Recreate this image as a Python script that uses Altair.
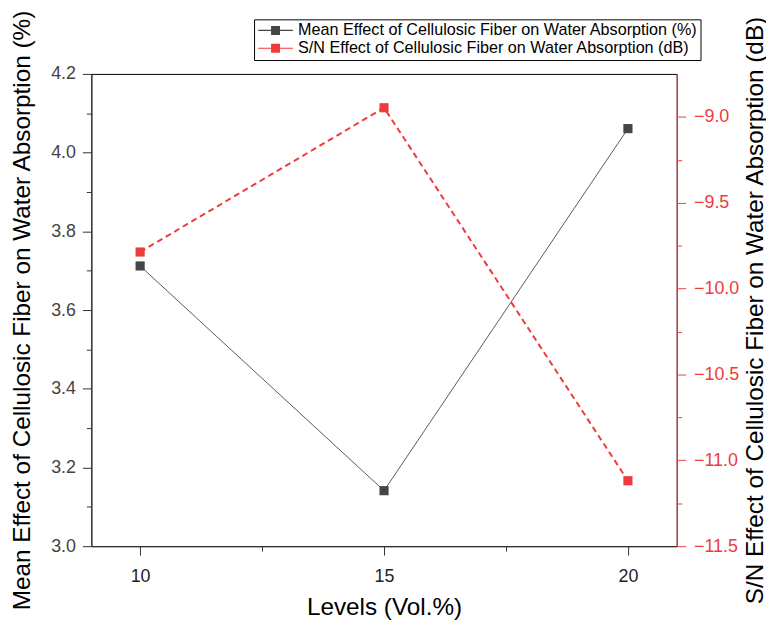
import altair as alt
import pandas as pd

levels = [10, 15, 20]
mean_vals = [3.712, 3.141, 4.061]
sn_vals = [-9.787, -8.947, -11.119]
mean_label = "Mean Effect of Cellulosic Fiber on Water Absorption (%)"
sn_label = "S/N Effect of Cellulosic Fiber on Water Absorption (dB)"
x_ticks = [10, 12.5, 15, 17.5, 20]
left_ticks = [3.0, 3.1, 3.2, 3.3, 3.4, 3.5, 3.6, 3.7, 3.8, 3.9, 4.0, 4.1, 4.2]
right_ticks = [-11.5, -11.25, -11.0, -10.75, -10.5, -10.25, -10.0, -9.75, -9.5, -9.25, -9.0]

df_mean = pd.DataFrame({"level": levels, "value": mean_vals, "series": mean_label})
df_sn = pd.DataFrame({"level": levels, "value": sn_vals, "series": sn_label})

FONT = "Liberation Sans"
GRAY = "#454545"
GRAY_LINE = "#5a5a5a"
RED = "#ee3b3b"
AXIS_DARK = "#333333"
TITLE_SIZE = 24.5
LABEL_SIZE = 18

color_scale = alt.Scale(domain=[mean_label, sn_label], range=[GRAY, RED])

legend_path = "M-1.4,-0.12H1.2V0.12H-1.4Z M3.0,-0.12H5.6V0.12H3.0Z M1.2,-0.9H3.0V0.9H1.2Z"

legend = alt.Legend(
    title=None,
    orient="none",
    legendX=164,
    legendY=-55,
    symbolType=legend_path,
    symbolSize=100,
    symbolStrokeWidth=0,
    symbolOpacity=1,
    labelFont=FONT,
    labelFontSize=16.3,
    labelColor="black",
    labelOffset=25,
    rowPadding=1,
    padding=3,
    strokeColor="black",
    fillColor="white",
    labelLimit=500,
)

x_enc = alt.X(
    "level:Q",
    scale=alt.Scale(domain=[9, 21], nice=False, zero=False),
    axis=alt.Axis(
        values=x_ticks,
        title="Levels (Vol.%)",
        labelExpr="datum.value % 5 ? '' : format(datum.value, 'd')",
        tickSize={"condition": {"test": "datum.value % 5 != 0", "value": 5}, "value": 9},
        labelPadding=13,
        titlePadding=10,
        domainColor=AXIS_DARK,
        tickColor=AXIS_DARK,
        labelColor="#222",
        labelFontSize=LABEL_SIZE,
        titleFontSize=TITLE_SIZE,
        labelFont=FONT,
        titleFont=FONT,
        titleFontWeight="normal",
        titleColor="black",
        grid=False,
    ),
)

y_left = alt.Y(
    "value:Q",
    scale=alt.Scale(domain=[3.0, 4.2], nice=False, zero=False),
    axis=alt.Axis(
        orient="left",
        values=left_ticks,
        title=mean_label,
        labelExpr="round(datum.value * 10) % 2 != 0 ? '' : format(datum.value, '.1f')",
        tickSize={"condition": {"test": "round(datum.value * 10) % 2 != 0", "value": 5}, "value": 9},
        labelPadding=7,
        titlePadding=16,
        domainColor=AXIS_DARK,
        tickColor=AXIS_DARK,
        labelColor="#444",
        labelFontSize=LABEL_SIZE,
        titleFontSize=TITLE_SIZE,
        labelFont=FONT,
        titleFont=FONT,
        titleFontWeight="normal",
        titleColor="black",
        grid=False,
    ),
)

y_right = alt.Y(
    "value:Q",
    scale=alt.Scale(domain=[-11.5, -8.75], nice=False, zero=False),
    axis=alt.Axis(
        orient="right",
        values=right_ticks,
        title=sn_label,
        titleAngle=270,
        titleBaseline="top",
        labelExpr="abs(round(datum.value * 4)) % 2 != 0 ? '' : format(datum.value, '.1f')",
        tickSize={"condition": {"test": "abs(round(datum.value * 4)) % 2 != 0", "value": 5}, "value": 9},
        labelPadding=8,
        titlePadding=5,
        domainColor=RED,
        tickColor=RED,
        labelColor=RED,
        labelFontSize=LABEL_SIZE,
        titleFontSize=TITLE_SIZE,
        labelFont=FONT,
        titleFont=FONT,
        titleFontWeight="normal",
        titleColor="black",
        grid=False,
    ),
)

mean_line = alt.Chart(df_mean).mark_line(color=GRAY_LINE, strokeWidth=1).encode(x=x_enc, y=y_left)
mean_pts = alt.Chart(df_mean).mark_point(shape="square", filled=True, size=85, opacity=1).encode(
    x=x_enc, y=y_left, color=alt.Color("series:N", scale=color_scale, legend=legend)
)
sn_line = alt.Chart(df_sn).mark_line(color=RED, strokeWidth=2, strokeDash=[6, 4]).encode(x=x_enc, y=y_right)
sn_pts = alt.Chart(df_sn).mark_point(shape="square", filled=True, size=85, opacity=1).encode(
    x=x_enc, y=y_right, color=alt.Color("series:N", scale=color_scale, legend=legend)
)

left = alt.layer(mean_line, mean_pts)
right = alt.layer(sn_line, sn_pts)

chart = (
    alt.layer(left, right)
    .resolve_scale(y="independent")
    .properties(
        width=590,
        height=476,
        autosize=alt.AutoSizeParams(type="none"),
        padding={"left": 84, "top": 64, "right": 90, "bottom": 76},
    )
    .configure_view(stroke="black", strokeWidth=1)
)

chart.save("out.html", embed_options={"renderer": "svg", "actions": False})
